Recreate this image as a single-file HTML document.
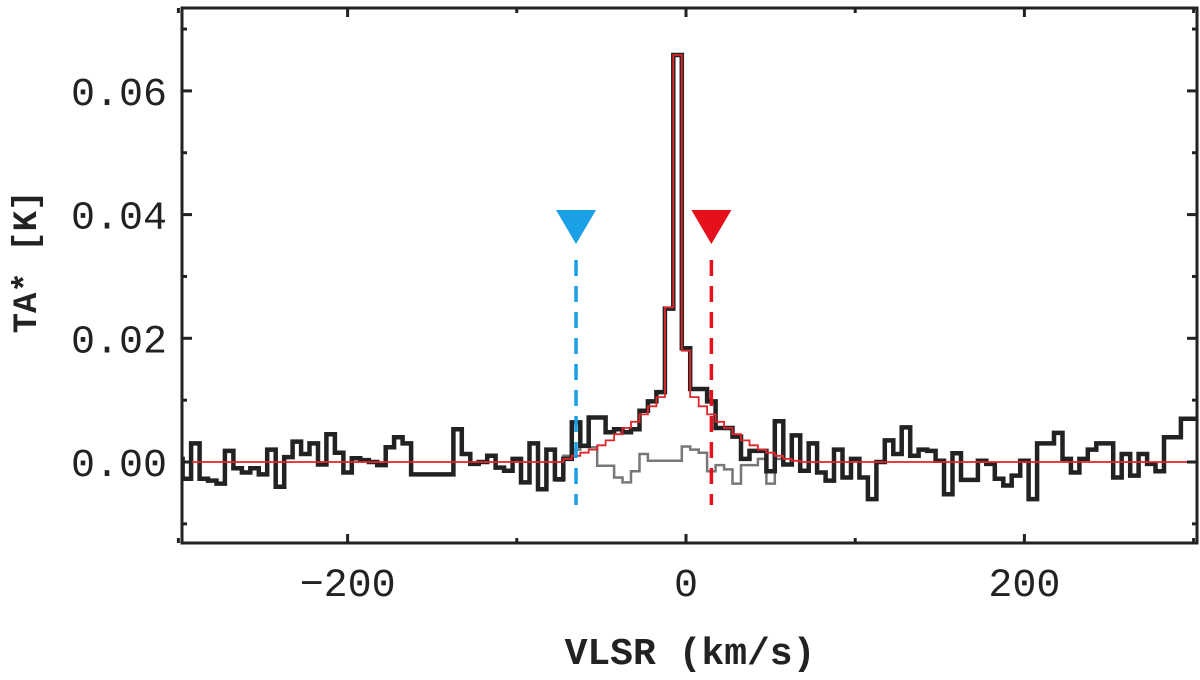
<!DOCTYPE html>
<html><head><meta charset="utf-8"><style>
body{margin:0;background:#fff;}
svg text{font-family:"Liberation Mono",monospace;}
</style></head><body>
<svg id="chart" width="1200" height="675" viewBox="0 0 1200 675" xmlns="http://www.w3.org/2000/svg">
<g id="marks"></g>
<rect x="182" y="8" width="1015" height="535" fill="none" stroke="#222" stroke-width="3"/>
<g id="axes"></g>
<text x="690" y="664" font-size="38" font-weight="bold" fill="#222" text-anchor="middle">VLSR (km/s)</text>
<text transform="translate(36,262) rotate(-90)" font-size="34" font-weight="bold" fill="#222" text-anchor="middle">TA* [K]</text>
</svg>
<script>
const blackVals=[0.0005,-0.0027,0.003,-0.0027,-0.003,-0.0035,0.0018,-0.001,-0.0017,-0.001,-0.002,0.002,-0.004,0.0008,0.0033,0.0013,0.003,-0.0004,0.0045,0.0015,-0.0017,0.0006,0.0003,0,-0.0005,0.0024,0.004,0.003,-0.002,-0.002,-0.002,
-0.002,-0.002,0.0053,0.0013,-0.0003,0,0.001,-0.0009,-0.0014,0.0005,-0.0033,0.003,-0.0044,0.002,-0.0028,0.0005,
0.0064,0.0026,0.0072,0.0072,0.0048,0.0053,0.0048,0.0053,0.0083,0.0098,0.0113,0.0248,0.0658,
0.0184,0.0118,0.0118,0.0098,0.0055,0.0055,0.0041,0.0005,0.0018,0.0018,-0.0015,0.0066,
-0.0004,0.0043,-0.0014,0.003,-0.0017,-0.003,0.002,-0.0025,0.0005,-0.0025,-0.006,0,0.0035,0.0013,0.0056,0.001,0.002,
0.0018,0.0002,-0.0052,0.0014,-0.0029,-0.0029,0.0002,-0.0003,-0.0027,-0.0038,-0.0022,0.0002,-0.006,0.003,0.003,0.0047,0.0005,-0.0017,0.0005,0.002,0.003,0.003,-0.0025,0.0013,-0.0022,0.0013,-0.0003,-0.0015,0.004,0.004,0.007,0.007];
const blackStart=-300;
const chanWidth=5;
const modelVels=[-75,-70,-65,-60,-55,-50,-45,-40,-35,-30,-25,-20,-15,-10,-5,0,5,10,15,20,25,30,35,40,45,50,55,60,65,70];
const modelVals=[0,0.0005,0.001,0.0015,0.002,0.0027,0.0035,0.0045,0.0055,0.0065,0.0077,0.009,0.0105,0.025,0.0658,0.018,0.0105,0.009,0.0077,0.0065,0.0055,0.0045,0.0035,0.0027,0.002,0.0015,0.001,0.0005,0.0002,0];
const residVels=[-75,-70,-65,-60,-55,-50,-45,-40,-35,-30,-25,-20,-15,-10,-5,0,5,10,15,20,25,30,35,40,45,50,55,60];
const residVals=[-0.003,0.001,0.002,0.0028,0.0024,-0.0006,-0.0006,-0.0025,-0.0033,-0.0015,0.0013,0.0002,0.0002,0.0002,0.0002,0.0025,0.002,0.0015,-0.0015,-0.0005,-0.0012,-0.0035,-0.0005,-0.0005,0.0005,-0.0035,0.0005,-0.0004];
const xTicks=[-200,0,200];
const xMinor=[-300,-100,100,300];
const yTicks=[0,0.02,0.04,0.06];
const yMinor=[-0.01,0.01,0.03,0.05,0.07];
const yTickLabels=["0.00","0.02","0.04","0.06"];
const markerVels=[-65,15];
const markerColors=["#1aa0e6","#e5101c"];

const X=v=>686+v*1.692;
const Y=t=>462-t*6185;
const NS="http://www.w3.org/2000/svg";
const marks=document.getElementById('marks');
const axes=document.getElementById('axes');
function stepPath(vels,vals,w){
  let d='';
  for(let i=0;i<vals.length;i++){
    const x0=X(vels[i]-w/2),x1=X(vels[i]+w/2),y=Y(vals[i]);
    d+=(i===0?'M':'L')+x0.toFixed(1)+','+y.toFixed(1)+'L'+x1.toFixed(1)+','+y.toFixed(1);
  }
  return d;
}
function addPath(d,stroke,sw,name){
  const p=document.createElementNS(NS,'path');
  p.setAttribute('d',d);p.setAttribute('fill','none');p.setAttribute('stroke',stroke);
  p.setAttribute('stroke-width',sw);p.setAttribute('stroke-linejoin','miter');
  
  
  marks.appendChild(p);
}
const bVels=blackVals.map((_,i)=>blackStart+i*chanWidth);
const cp=document.createElementNS(NS,'clipPath');cp.setAttribute('id','clip');
const cr=document.createElementNS(NS,'rect');cr.setAttribute('x',182);cr.setAttribute('y',8);cr.setAttribute('width',1015);cr.setAttribute('height',535);
cp.appendChild(cr);document.getElementById('chart').appendChild(cp);
marks.setAttribute('clip-path','url(#clip)');
addPath(stepPath(residVels,residVals,chanWidth),'#777',2.5,'residual-spectrum');
addPath(stepPath(bVels,blackVals,chanWidth),'#222',4.5,'observed-spectrum');
let md='M'+X(-300)+','+Y(0)+'L'+X(modelVels[0]-2.5)+','+Y(0)+stepPath(modelVels,modelVals,chanWidth).replace(/^M/,'L')+'L'+X(300)+','+Y(0);
addPath(md,'#e0262a',1.8,'model-fit');
markerVels.forEach((v,i)=>{
  const x=X(v);
  const l=document.createElementNS(NS,'line');
  l.setAttribute('x1',x);l.setAttribute('x2',x);l.setAttribute('y1',260);l.setAttribute('y2',505);
  l.setAttribute('stroke',markerColors[i]);l.setAttribute('stroke-width',3.5);l.setAttribute('stroke-dasharray','16,10');
  
  
  axes.appendChild(l);
  const t=document.createElementNS(NS,'polygon');
  t.setAttribute('points',(x-20)+',210 '+(x+20)+',210 '+x+',244');
  t.setAttribute('fill',markerColors[i]);
  
  
  axes.appendChild(t);
});
function line(x1,y1,x2,y2,name){
  const l=document.createElementNS(NS,'line');
  l.setAttribute('x1',x1);l.setAttribute('y1',y1);l.setAttribute('x2',x2);l.setAttribute('y2',y2);
  l.setAttribute('stroke','#222');l.setAttribute('stroke-width',3);
  
  
  axes.appendChild(l);
}
function text(x,y,s,anchor,name){
  const t=document.createElementNS(NS,'text');
  t.setAttribute('x',x);t.setAttribute('y',y);t.setAttribute('text-anchor',anchor);
  t.setAttribute('font-size',40);t.setAttribute('fill','#222');t.textContent=s;
  
  
  axes.appendChild(t);
}
xTicks.forEach(v=>{line(X(v),543,X(v),534,'x-tick');line(X(v),8,X(v),17,'x-tick');text(X(v),596,String(v).replace('-','−'),'middle','x-tick-label');});
xMinor.forEach(v=>{line(X(v),543,X(v),538,'x-minor-tick');line(X(v),8,X(v),13,'x-minor-tick');});
yTicks.forEach((t,i)=>{line(182,Y(t),192,Y(t),'y-tick');line(1197,Y(t),1187,Y(t),'y-tick');text(167,Y(t)+14,yTickLabels[i],'end','y-tick-label');});
yMinor.forEach(t=>{line(182,Y(t),187,Y(t),'y-minor-tick');line(1197,Y(t),1192,Y(t),'y-minor-tick');});
</script>
</body></html>
